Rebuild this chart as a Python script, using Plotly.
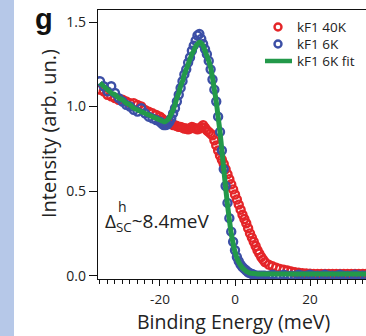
import plotly.graph_objects as go

# ---------------- data ----------------
energy_40k = [-36, -35, -34, -33, -32, -31, -30, -29, -28, -27, -26, -25, -24, -23, -22, -21,
              -20, -19.5, -19, -18.5, -18, -17.5, -17, -16.5, -16, -15.5, -15, -14.5, -14, -13.5,
              -13, -12.5, -12, -11.5, -11, -10.5, -10, -9.5, -9, -8.5, -8, -7.5, -7, -6.5, -6,
              -5.5, -5, -4.5, -4, -3.5, -3, -2.5, -2, -1.5, -1, -0.5, 0, 0.5, 1, 1.5, 2, 2.5,
              3, 3.5, 4, 4.5, 5, 5.5, 6, 6.5, 7, 7.5, 8, 9, 10, 11, 12, 13, 14, 15, 16, 17, 18,
              19, 20, 21, 22, 23, 24, 25, 26, 27, 28, 29, 30, 31, 32, 33, 34, 35]
intensity_40k = [1.10, 1.09, 1.07, 1.06, 1.05, 1.04, 1.04, 1.03, 1.02, 1.02, 1.01, 1.00, 0.98, 0.97, 0.96, 0.95,
                 0.94, 0.93, 0.92, 0.91, 0.905, 0.90, 0.90, 0.89, 0.89, 0.885, 0.88, 0.88, 0.875, 0.87,
                 0.87, 0.865, 0.87, 0.88, 0.875, 0.87, 0.865, 0.87, 0.88, 0.89, 0.875, 0.86, 0.85, 0.84, 0.83,
                 0.80, 0.77, 0.74, 0.71, 0.685, 0.66, 0.63, 0.60, 0.57, 0.54, 0.51, 0.48, 0.45, 0.42, 0.39, 0.36, 0.335,
                 0.31, 0.28, 0.25, 0.225, 0.20, 0.175, 0.15, 0.13, 0.11, 0.095, 0.08, 0.065, 0.055, 0.047, 0.04, 0.035, 0.03, 0.025, 0.02, 0.018, 0.015,
                 0.013, 0.012, 0.01, 0.01, 0.01, 0.01, 0.01, 0.01, 0.01, 0.01, 0.01, 0.01, 0.01, 0.01, 0.01, 0.01, 0.01]

energy_6k = [-36, -35, -34, -33, -32, -31, -30, -29, -28, -27, -26, -25, -24, -23, -22, -21,
             -20, -19.5, -19, -18.5, -18, -17.5, -17, -16.5, -16, -15.5, -15, -14.5, -14, -13.5,
             -13, -12.5, -12, -11.5, -11, -10.5, -10, -9.5, -9, -8.5, -8, -7.5, -7, -6.5, -6,
             -5.5, -5, -4.5, -4, -3.5, -3, -2.5, -2, -1.5, -1, -0.5, 0, 0.5, 1, 1.5, 2, 2.5,
             3, 3.5, 4, 4.5, 5, 5.5, 6, 6.5, 7, 7.5, 8, 9, 10, 11, 12, 13, 14, 15, 16, 17, 18,
             19, 20, 21, 22, 23, 24, 25, 26, 27, 28, 29, 30, 31, 32, 33, 34, 35]
intensity_6k = [1.15, 1.12, 1.09, 1.12, 1.08, 1.05, 1.03, 1.01, 1.00, 0.98, 0.97, 0.99, 0.96, 0.94, 0.93, 0.92,
                0.91, 0.90, 0.89, 0.89, 0.895, 0.91, 0.93, 0.96, 0.99, 1.03, 1.07, 1.11, 1.15, 1.19,
                1.22, 1.26, 1.29, 1.33, 1.36, 1.39, 1.42, 1.43, 1.40, 1.37, 1.34, 1.31, 1.27, 1.22, 1.16,
                1.10, 1.03, 0.94, 0.85, 0.74, 0.63, 0.53, 0.43, 0.34, 0.26, 0.20, 0.15, 0.11, 0.085, 0.065, 0.05, 0.04,
                0.03, 0.02, 0.015, 0.01, 0.005, 0.0, 0.0, 0.0, 0.0, 0.0, 0.0, 0.0, 0.005, 0.0, 0.0, 0.005, 0.0, 0.0, 0.0, 0.005, 0.0,
                0.0, 0.005, 0.0, 0.0, 0.0, 0.005, 0.0, 0.0, 0.0, 0.005, 0.0, 0.0, 0.0, 0.005, 0.0, 0.0, 0.0]

energy_fit = [-36, -35, -34, -33, -32, -31, -30, -29, -28, -27, -26, -25, -24, -23, -22, -21,
              -20, -19.5, -19, -18.5, -18, -17.5, -17, -16.5, -16, -15.5, -15, -14.5, -14, -13.5,
              -13, -12.5, -12, -11.5, -11, -10.5, -10, -9.5, -9, -8.5, -8, -7.5, -7, -6.5, -6,
              -5.5, -5, -4.5, -4, -3.5, -3, -2.5, -2, -1.5, -1, -0.5, 0, 0.5, 1, 1.5, 2, 2.5,
              3, 3.5, 4, 5, 6, 7, 8, 10, 15, 20, 25, 30, 35]
intensity_fit = [1.14, 1.12, 1.10, 1.08, 1.07, 1.05, 1.04, 1.02, 1.01, 0.99, 0.98, 0.97, 0.96, 0.95, 0.94, 0.93,
                 0.92, 0.915, 0.91, 0.912, 0.92, 0.935, 0.955, 0.98, 1.01, 1.05, 1.08, 1.12, 1.15, 1.19,
                 1.22, 1.25, 1.28, 1.31, 1.33, 1.355, 1.37, 1.38, 1.375, 1.36, 1.33, 1.30, 1.27, 1.23, 1.17,
                 1.10, 1.03, 0.94, 0.85, 0.74, 0.63, 0.52, 0.42, 0.33, 0.25, 0.19, 0.14, 0.105, 0.08, 0.06, 0.045, 0.035,
                 0.025, 0.02, 0.015, 0.012, 0.01, 0.01, 0.01, 0.01, 0.01, 0.01, 0.01, 0.01, 0.01]

series_names = ["kF1 40K", "kF1 6K", "kF1 6K fit"]
x_tick_vals = [-20, 0, 20]
x_tick_text = ["-20", "0", "20"]
y_tick_vals = [0.0, 0.5, 1.0, 1.5]
y_tick_text = ["0.0", "0.5", "1.0", "1.5"]

RED = "#e42528"
BLUE = "#3c4fa6"
GREEN = "#23994a"
TXT = "#222222"
FONT = "Open Sans"

# pixel -> paper helpers (plot area: x 98..366, y 10..279)
L, R, T, B = 98, 366, 10, 279
def px(x):
    return (x - L) / (R - L)
def py(y):
    return (B - y) / (B - T)

fig = go.Figure()
fig.add_trace(go.Scatter(x=energy_40k, y=intensity_40k, mode="markers", name=series_names[0],
                         marker=dict(symbol="circle-open", size=8, color=RED, line=dict(width=2.4, color=RED))))
fig.add_trace(go.Scatter(x=energy_6k, y=intensity_6k, mode="markers", name=series_names[1],
                         marker=dict(symbol="circle-open", size=8, color=BLUE, line=dict(width=2.4, color=BLUE))))
fig.add_trace(go.Scatter(x=energy_fit, y=intensity_fit, mode="lines", name=series_names[2],
                         line=dict(color=GREEN, width=5, shape="spline", smoothing=0.6)))

fig.update_layout(
    width=366, height=336,
    margin=dict(l=L, r=366 - R, t=T, b=336 - B),
    paper_bgcolor="white", plot_bgcolor="white",
    font=dict(family=FONT, color=TXT),
    showlegend=False,
)
fig.update_xaxes(range=[-36.53, 34.93], showgrid=False, zeroline=False,
                 showline=True, linecolor="#111111", linewidth=1.3, mirror=True,
                 ticks="outside", ticklen=6, tickwidth=1.3, tickcolor="#111111",
                 tickvals=x_tick_vals, ticktext=x_tick_text, ticklabelstandoff=2,
                 tickfont=dict(size=13.5, family=FONT, color=TXT),
                 minor=dict(ticks="outside", ticklen=4, tickwidth=1.1, tickcolor="#111111", dtick=2, tick0=0))
fig.update_yaxes(range=[-0.02, 1.571], showgrid=False, zeroline=False,
                 showline=True, linecolor="#111111", linewidth=1.3,
                 ticks="outside", ticklen=8, tickwidth=1.3, tickcolor="#111111",
                 tickvals=y_tick_vals, ticktext=y_tick_text,
                 tickfont=dict(size=14, family=FONT, color=TXT))

# left light-blue strip of the page
fig.add_shape(type="rect", xref="paper", yref="paper",
              x0=px(0), x1=px(14), y0=py(340), y1=py(-4),
              fillcolor="#b6c8e8", line=dict(width=0), layer="below")

# manual legend (symbols + labels)
leg_y = [27, 44, 61]
fig.add_shape(type="circle", xref="paper", yref="paper",
              x0=px(274.5), x1=px(281.5), y0=py(leg_y[0] + 3.5), y1=py(leg_y[0] - 3.5),
              line=dict(color=RED, width=2.4), fillcolor="white")
fig.add_shape(type="circle", xref="paper", yref="paper",
              x0=px(274.5), x1=px(281.5), y0=py(leg_y[1] + 3.5), y1=py(leg_y[1] - 3.5),
              line=dict(color=BLUE, width=2.4), fillcolor="white")
fig.add_shape(type="line", xref="paper", yref="paper",
              x0=px(265), x1=px(292), y0=py(leg_y[2]), y1=py(leg_y[2]),
              line=dict(color=GREEN, width=4.5))
for name, yy in zip(series_names, leg_y):
    fig.add_annotation(text=name, xref="paper", yref="paper", x=px(295), y=py(yy),
                       xanchor="left", yanchor="middle", showarrow=False,
                       font=dict(size=13.5, family=FONT, color=TXT))

fig.add_annotation(text="<b>g</b>", xref="paper", yref="paper", x=px(44), y=py(19),
                   xanchor="center", yanchor="middle",
                   showarrow=False, font=dict(size=29, family="Liberation Sans", color="#111111"))
fig.add_annotation(text="Intensity (arb. un.)", xref="paper", yref="paper", x=px(48), y=py(134),
                   xanchor="center", yanchor="middle",
                   textangle=-90, showarrow=False, font=dict(size=20, family=FONT, color=TXT))
fig.add_annotation(text="Binding Energy (meV)", xref="paper", yref="paper", x=px(233), y=py(321),
                   xanchor="center", yanchor="middle",
                   showarrow=False, font=dict(size=19.5, family=FONT, color=TXT))
fig.add_annotation(text="Δ<sub>SC</sub>~8.4meV", xref="paper", yref="paper", x=px(103), y=py(222),
                   xanchor="left", yanchor="middle", showarrow=False,
                   font=dict(size=19, family=FONT, color=TXT))
fig.add_annotation(text="h", xref="paper", yref="paper", x=px(122), y=py(206),
                   xanchor="center", yanchor="middle", showarrow=False,
                   font=dict(size=14, family=FONT, color=TXT))

fig.write_html("out.html", config={"displayModeBar": False},
               post_script="document.body.style.margin='0px';")
